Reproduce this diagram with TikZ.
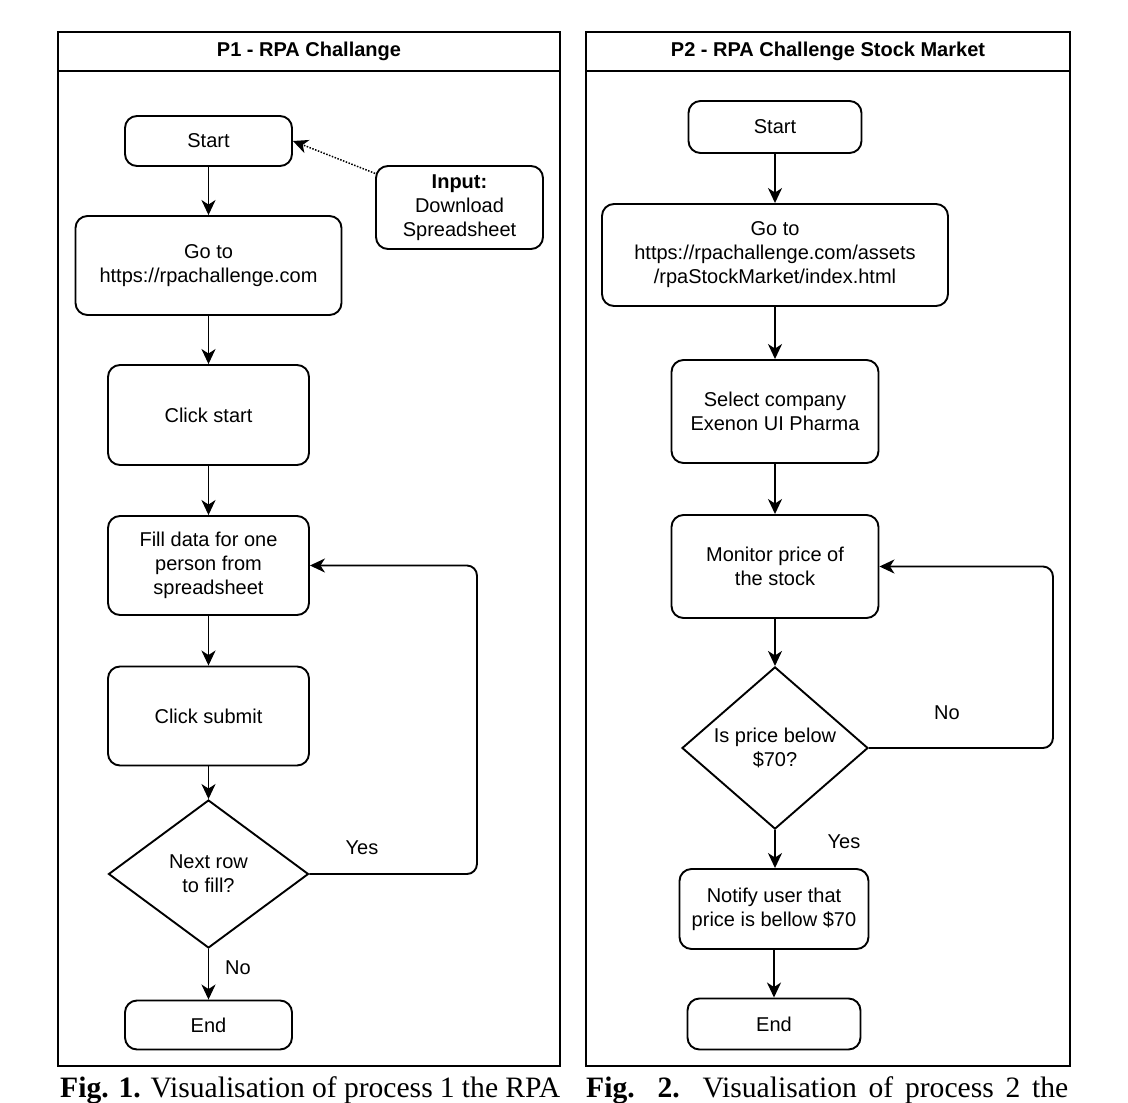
\documentclass[tikz,border=0pt]{standalone}
\usepackage{fontspec}
\setmainfont{Liberation Serif}
\newfontfamily\diagfont{Liberation Sans}
\usetikzlibrary{shapes.geometric,arrows.meta}
\begin{document}
\begin{tikzpicture}[x=1pt,y=-1pt,
  font=\diagfont\fontsize{20}{24}\selectfont,
  panel/.style={draw,line width=2pt},
  ttl/.style={font=\diagfont\bfseries\fontsize{20}{24}\selectfont,inner sep=0pt},
  box/.style={draw,line width=1.9pt,rounded corners=12pt,align=center,inner sep=0pt},
  dec/.style={draw,line width=1.9pt,diamond,inner sep=0pt,align=center},
  arr/.style={line width=1.9pt,-{Stealth[length=15pt,width=14pt,inset=4.5pt]}},
  dotarr/.style={line width=1.5pt,dash pattern=on 1.5pt off 1.5pt,-{Stealth[length=15pt,width=14pt,inset=4.5pt]}},
  lbl/.style={inner sep=0pt},
  figcaption/.style={anchor=base west,inner sep=0pt,font=\rmfamily\fontsize{29.6}{34}\selectfont}
]
\useasboundingbox[fill=white] (0,0) rectangle (1128,1103);

% panels
\draw[panel] (58,32) rectangle (560,1066);
\draw[panel] (58,71) -- (560,71);
\draw[panel] (586,32) rectangle (1070,1066);
\draw[panel] (586,71) -- (1070,71);
\node[ttl] (t1) at (309,51) {P1 - RPA Challange};
\node[ttl] (t2) at (828,51) {P2 - RPA Challenge Stock Market};

% left flow
\node[box,minimum width=167pt,minimum height=50pt] (s1) at (208.5,141) {Start};
\node[box,minimum width=167pt,minimum height=83pt] (inp) at (459.5,207.5) {\textbf{Input:}\\Download\\Spreadsheet};
\node[box,minimum width=266pt,minimum height=99pt] (go1) at (208.5,265.5) {Go to\\https://rpachallenge.com};
\node[box,minimum width=201pt,minimum height=100pt] (cs) at (208.5,415) {Click start};
\node[box,minimum width=201pt,minimum height=99pt] (fill) at (208.5,565.5) {Fill data for one\\person from\\spreadsheet};
\node[box,minimum width=201pt,minimum height=99pt] (sub) at (208.5,716) {Click submit};
\node[dec,minimum width=200pt,minimum height=148pt] (d1) at (208.5,874) {Next row\\to fill?};
\node[box,minimum width=167pt,minimum height=49pt] (e1) at (208.5,1025) {End};

\draw[arr] (s1) -- (go1);
\draw[arr] (go1) -- (cs);
\draw[arr] (cs) -- (fill);
\draw[arr] (fill) -- (sub);
\draw[arr] (sub) -- (d1);
\draw[arr] (d1) -- (e1);
\draw[arr,rounded corners=10pt] (d1.east) -- ++(167.5,0) |- (fill.east);
\draw[dotarr] (inp.158) -- (s1.east);
\node[lbl] (y1) at (362,848) {Yes};
\node[lbl] (n1) at (238,968) {No};

% right flow
\node[box,minimum width=173pt,minimum height=52pt] (s2) at (775,127) {Start};
\node[box,minimum width=346pt,minimum height=102pt] (go2) at (775,255) {Go to\\https://rpachallenge.com/assets\\/rpaStockMarket/index.html};
\node[box,minimum width=207pt,minimum height=103pt] (sel) at (775,411.5) {Select company\\Exenon UI Pharma};
\node[box,minimum width=207pt,minimum height=103pt] (mon) at (775,566.5) {Monitor price of\\the stock};
\node[dec,minimum width=186pt,minimum height=154pt] (d2) at (775,748) {Is price below\\\$70?};
\node[box,minimum width=189pt,minimum height=80pt] (nt) at (774,909) {Notify user that\\price is bellow \$70};
\node[box,minimum width=173pt,minimum height=51pt] (e2) at (774,1024) {End};

\draw[arr] (s2) -- (go2);
\draw[arr] (go2) -- (sel);
\draw[arr] (sel) -- (mon);
\draw[arr] (mon) -- (d2);
\draw[arr] (d2.south) -- (d2.south |- nt.north);
\draw[arr] (nt) -- (e2);
\draw[arr,rounded corners=10pt] (d2.east) -- ++(184,0) |- (mon.east);
\node[lbl] (n2) at (947,713) {No};
\node[lbl] (y2) at (844,842) {Yes};

% captions
\node[figcaption] (c1) at (60,1097) {\makebox[500pt][s]{\textbf{Fig. 1.} Visualisation of process 1 the RPA}};
\node[figcaption] (c2) at (586,1097) {\makebox[482pt][s]{\textbf{Fig. 2.} Visualisation of process 2 the}};
\end{tikzpicture}
\end{document}
